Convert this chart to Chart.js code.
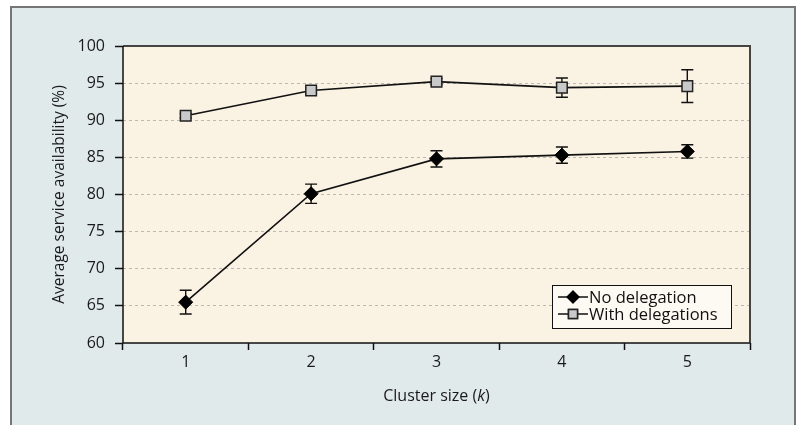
<!DOCTYPE html>
<html>
<head>
<meta charset="utf-8">
<script src="https://cdn.jsdelivr.net/npm/chart.js@4.4.1/dist/chart.umd.min.js"></script>
<style>
    html, body { margin: 0; padding: 0; background: #fff; }
    #wrap { position: relative; width: 797px; height: 425px; overflow: hidden; }
    #frame {
        position: absolute; left: 10px; top: 6px; width: 782px; height: 430px;
        background: #e1eaeb; border: 2px solid #767676; border-bottom: none;
    }
    #chart { position: absolute; left: 0; top: 0; }
    #xtitle {
        position: absolute; left: 123px; width: 627px; top: 384px;
        text-align: center; font: 16px "Open Sans", sans-serif; color: #1a1a1a; line-height: 22px;
    }
</style>
</head>
<body>
<div id="wrap">
    <div id="frame"></div>
    <canvas id="chart" width="797" height="425"></canvas>
    <div id="xtitle">Cluster size (<i>k</i>)</div>
</div>
<script>
// Data
const categories = ['1', '2', '3', '4', '5'];
const noDelegation = [65.5, 80.1, 84.8, 85.3, 85.8];
const noDelegationErr = [1.6, 1.3, 1.1, 1.1, 0.9];
const withDelegations = [90.6, 94.0, 95.2, 94.4, 94.6];
const withDelegationsErr = [0.3, 0.4, 0.4, 1.3, 2.2];
const yMin = 60, yMax = 100, yStep = 5;

const FONT = '"Open Sans", sans-serif';

// Cream plot area + frame lines
const plotFrame = {
    id: 'plotFrame',
    beforeDraw(chart) {
        const a = chart.chartArea, ctx = chart.ctx;
        ctx.save();
        ctx.fillStyle = '#faf2e3';
        ctx.fillRect(a.left, a.top, a.right - a.left, a.bottom - a.top);
        ctx.restore();
    },
    afterDraw(chart) {
        const a = chart.chartArea, ctx = chart.ctx;
        ctx.save();
        ctx.strokeStyle = '#444';
        ctx.lineWidth = 2;
        ctx.beginPath();
        ctx.moveTo(a.left, a.top);
        ctx.lineTo(a.right, a.top);
        ctx.lineTo(a.right, a.bottom);
        ctx.stroke();
        ctx.strokeStyle = '#111';
        ctx.lineWidth = 1.5;
        ctx.beginPath();
        ctx.moveTo(a.left, a.top);
        ctx.lineTo(a.left, a.bottom);
        ctx.lineTo(a.right, a.bottom);
        ctx.stroke();
        ctx.restore();
    }
};

// Vertical error bars with caps
const errorBars = {
    id: 'errorBars',
    beforeDatasetsDraw(chart) {
        const ctx = chart.ctx, y = chart.scales.y;
        ctx.save();
        ctx.strokeStyle = '#111';
        ctx.lineWidth = 1.4;
        chart.data.datasets.forEach((ds, i) => {
            const meta = chart.getDatasetMeta(i);
            meta.data.forEach((pt, j) => {
                const e = ds.errors[j];
                const top = y.getPixelForValue(ds.data[j] + e);
                const bot = y.getPixelForValue(ds.data[j] - e);
                ctx.beginPath();
                ctx.moveTo(pt.x, top); ctx.lineTo(pt.x, bot);
                ctx.moveTo(pt.x - 6, top); ctx.lineTo(pt.x + 6, top);
                ctx.moveTo(pt.x - 6, bot); ctx.lineTo(pt.x + 6, bot);
                ctx.stroke();
            });
        });
        ctx.restore();
    }
};

// Boxed legend in lower right of plot
const boxLegend = {
    id: 'boxLegend',
    afterDraw(chart) {
        const a = chart.chartArea, ctx = chart.ctx;
        const w = 179, h = 43;
        const x0 = a.right - 19 - w, y0 = a.bottom - 15 - h;
        ctx.save();
        ctx.fillStyle = '#fdfaf3';
        ctx.strokeStyle = '#111';
        ctx.lineWidth = 1;
        ctx.fillRect(x0, y0, w, h);
        ctx.strokeRect(x0 + 0.5, y0 + 0.5, w, h);
        ctx.font = '16.5px ' + FONT;
        ctx.textBaseline = 'middle';
        chart.data.datasets.forEach((ds, i) => {
            const yy = y0 + 12 + i * 17;
            ctx.strokeStyle = '#111';
            ctx.lineWidth = 1.5;
            ctx.beginPath();
            ctx.moveTo(x0 + 6, yy); ctx.lineTo(x0 + 36, yy);
            ctx.stroke();
            Chart.helpers.drawPoint(ctx, {
                pointStyle: ds.pointStyle, radius: ds.pointRadius * 0.85, borderWidth: ds.pointBorderWidth, rotation: 0
            }, x0 + 21, yy);
            ctx.fillStyle = ds.pointBackgroundColor;
            ctx.strokeStyle = ds.pointBorderColor;
            ctx.lineWidth = ds.pointBorderWidth;
            ctx.fill();
            ctx.stroke();
            ctx.fillStyle = '#111';
            ctx.fillText(ds.label, x0 + 37, yy + 1);
        });
        ctx.restore();
    }
};

new Chart(document.getElementById('chart'), {
    type: 'line',
    data: {
        labels: categories,
        datasets: [{
            label: 'No delegation',
            data: noDelegation,
            errors: noDelegationErr,
            borderColor: '#111',
            borderWidth: 1.6,
            pointStyle: 'rectRot',
            pointRadius: 7,
            pointBackgroundColor: '#000',
            pointBorderColor: '#000',
            pointBorderWidth: 1,
            tension: 0
        }, {
            label: 'With delegations',
            data: withDelegations,
            errors: withDelegationsErr,
            borderColor: '#111',
            borderWidth: 1.6,
            pointStyle: 'rect',
            pointRadius: 7.5,
            pointBackgroundColor: '#c9c9c9',
            pointBorderColor: '#222',
            pointBorderWidth: 1.5,
            tension: 0
        }]
    },
    options: {
        responsive: false,
        animation: false,
        layout: { padding: { left: 47, top: 46, right: 47, bottom: 45 } },
        plugins: {
            legend: { display: false },
            tooltip: { enabled: false }
        },
        scales: {
            x: {
                offset: true,
                grid: {
                    offset: true, drawOnChartArea: false,
                    tickLength: 7, tickColor: '#111', tickWidth: 1.5, tickBorderDash: []
                },
                border: { display: false },
                ticks: { color: '#1a1a1a', font: { family: FONT, size: 16 }, padding: 3 },
                afterFit(scale) { scale.height = 37; }
            },
            y: {
                min: yMin, max: yMax,
                grid: {
                    color: c => (c.tick.value === yMin || c.tick.value === yMax) ? 'rgba(0,0,0,0)' : '#bdb9b2',
                    lineWidth: 1,
                    tickLength: 8, tickColor: '#111', tickWidth: 1.5, tickBorderDash: []
                },
                border: { display: false, dash: [3, 3] },
                ticks: { stepSize: yStep, color: '#1a1a1a', font: { family: FONT, size: 16 }, padding: 10 },
                title: {
                    display: true, text: 'Average service availability (%)',
                    color: '#1a1a1a', font: { family: FONT, size: 15.5 }, padding: { top: 3, bottom: 0 }
                },
                afterFit(scale) { scale.width = 76; }
            }
        }
    },
    plugins: [plotFrame, errorBars, boxLegend]
});
</script>
</body>
</html>
